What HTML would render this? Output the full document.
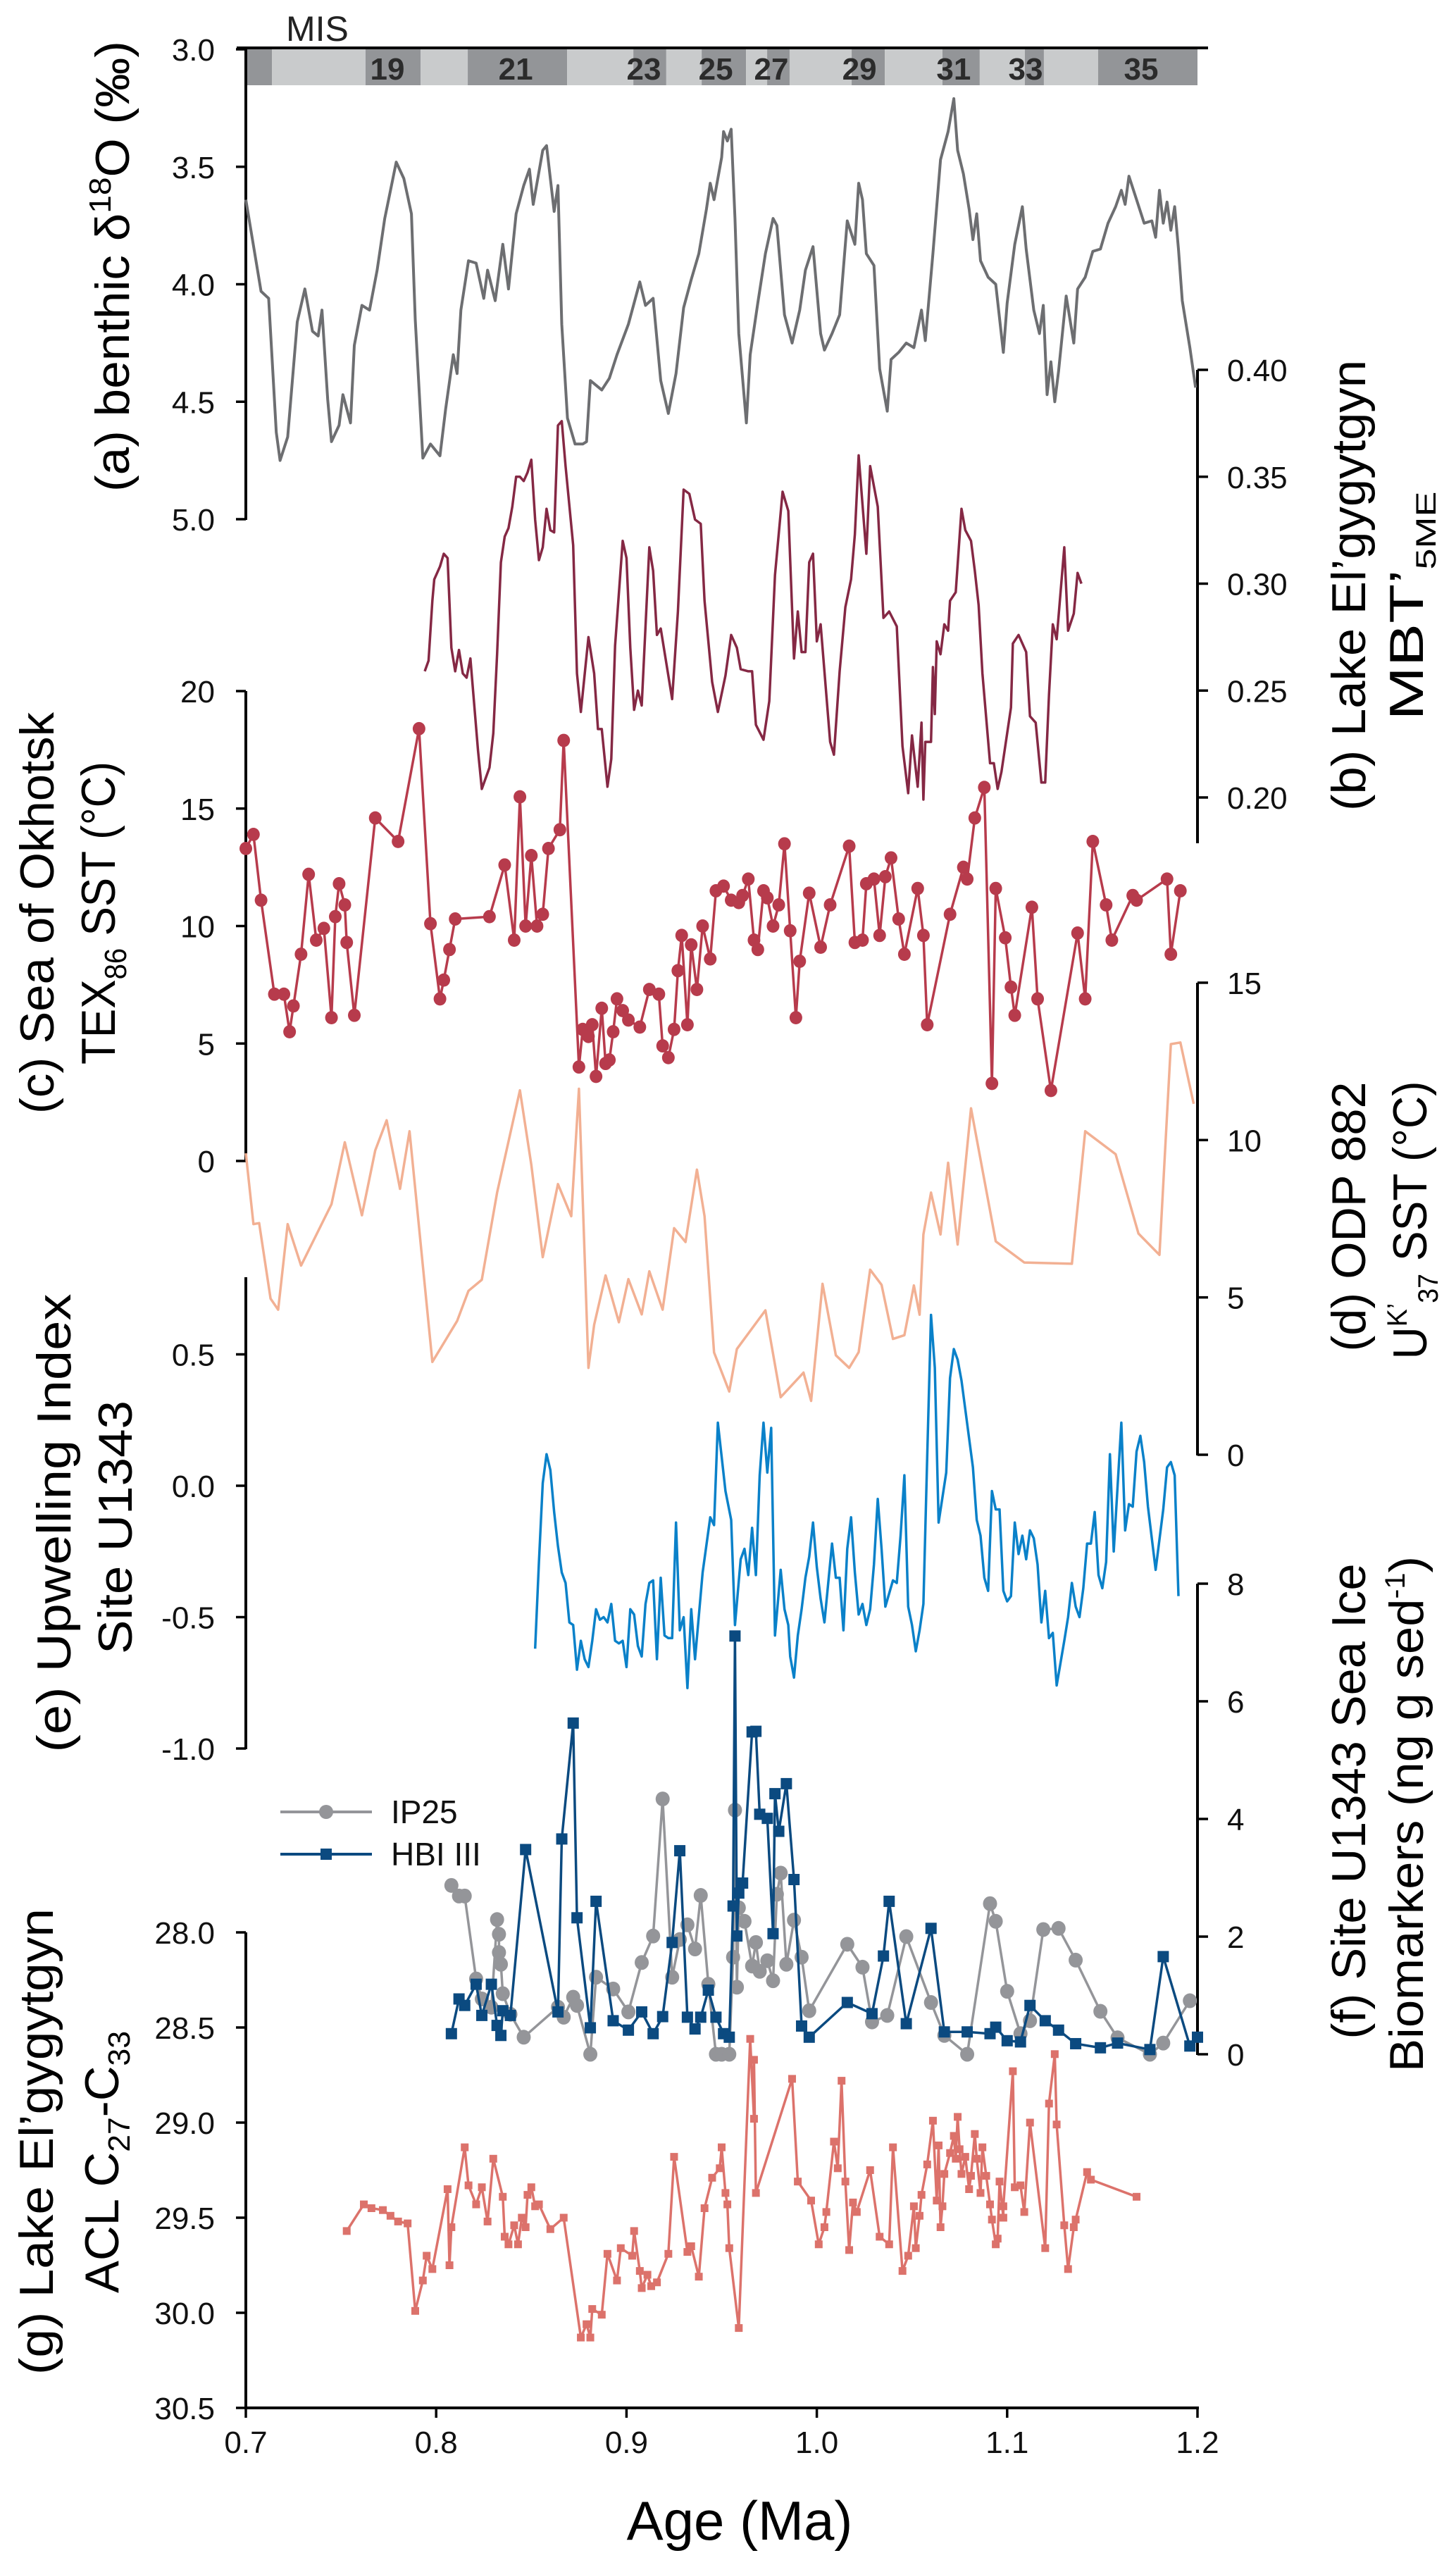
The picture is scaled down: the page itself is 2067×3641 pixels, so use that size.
<!DOCTYPE html>
<html><head><meta charset="utf-8"><style>
html,body{margin:0;padding:0;background:#fff;}
svg{display:block;font-family:"Liberation Sans",sans-serif;}
</style></head><body>
<svg id="chart" width="2067" height="3641" viewBox="0 0 2067 3641" xmlns="http://www.w3.org/2000/svg">
<g id="mis"></g>
<g id="axes"></g>
<g id="series"></g>
<text x="406" y="58" font-size="50" fill="#222">MIS</text>
<!-- left labels -->
<text transform="translate(183,378) rotate(-90)" text-anchor="middle" font-size="68" textLength="640" lengthAdjust="spacingAndGlyphs">(a) benthic δ<tspan font-size="44" dy="-26">18</tspan><tspan dy="26">O (‰)</tspan></text>
<text transform="translate(76,1296) rotate(-90)" text-anchor="middle" font-size="68" textLength="570" lengthAdjust="spacingAndGlyphs">(c) Sea of Okhotsk</text>
<text transform="translate(163,1296) rotate(-90)" text-anchor="middle" font-size="68" textLength="430" lengthAdjust="spacingAndGlyphs">TEX<tspan font-size="44" dy="16">86</tspan><tspan dy="-16"> SST (°C)</tspan></text>
<text transform="translate(100,2162) rotate(-90)" text-anchor="middle" font-size="68" textLength="651" lengthAdjust="spacingAndGlyphs">(e) Upwelling Index</text>
<text transform="translate(187,2168) rotate(-90)" text-anchor="middle" font-size="68" textLength="360" lengthAdjust="spacingAndGlyphs">Site U1343</text>
<text transform="translate(75,3040) rotate(-90)" text-anchor="middle" font-size="68" textLength="662" lengthAdjust="spacingAndGlyphs">(g) Lake El’gygytgyn</text>
<text transform="translate(168,3069) rotate(-90)" text-anchor="middle" font-size="68" textLength="372" lengthAdjust="spacingAndGlyphs">ACL C<tspan font-size="44" dy="16">27</tspan><tspan dy="-16">-C</tspan><tspan font-size="44" dy="16">33</tspan></text>
<!-- right labels -->
<text transform="translate(1938,831) rotate(-90)" text-anchor="middle" font-size="68" textLength="640" lengthAdjust="spacingAndGlyphs">(b) Lake El’gygytgyn</text>
<text transform="translate(2020,860) rotate(-90)" text-anchor="middle" font-size="68" textLength="325" lengthAdjust="spacingAndGlyphs">MBT’<tspan font-size="40" dy="18">5ME</tspan></text>
<text transform="translate(1938,1727) rotate(-90)" text-anchor="middle" font-size="68" textLength="383" lengthAdjust="spacingAndGlyphs">(d) ODP 882</text>
<text transform="translate(2025,1732) rotate(-90)" text-anchor="middle" font-size="68" textLength="395" lengthAdjust="spacingAndGlyphs">U<tspan font-size="40" dy="-28">K’</tspan><tspan font-size="40" dy="44">37</tspan><tspan dy="-16"> SST (°C)</tspan></text>
<text transform="translate(1938,2557) rotate(-90)" text-anchor="middle" font-size="68" textLength="675" lengthAdjust="spacingAndGlyphs">(f) Site U1343 Sea Ice</text>
<text transform="translate(2020,2575) rotate(-90)" text-anchor="middle" font-size="68" textLength="732" lengthAdjust="spacingAndGlyphs">Biomarkers (ng g sed<tspan font-size="40" dy="-26">-1</tspan><tspan dy="26">)</tspan></text>
<text x="1050" y="3605" text-anchor="middle" font-size="78">Age (Ma)</text>
<!-- legend -->
<g>
<g>
<line x1="398" y1="2572" x2="528" y2="2572" stroke="#949599" stroke-width="4"/>
<circle cx="463" cy="2572" r="10" fill="#949599"/>
<text x="555" y="2588" font-size="46" fill="#111">IP25</text>
</g>
<g>
<line x1="398" y1="2632" x2="528" y2="2632" stroke="#0b4a80" stroke-width="4"/>
<rect x="455" y="2624" width="16" height="16" fill="#0b4a80"/>
<text x="555" y="2648" font-size="46" fill="#111">HBI III</text>
</g>
</g>
</svg>
<script>
// ---- data ----
const xTicks = [0.7,0.8,0.9,1.0,1.1,1.2];
const xTickLabels = ["0.7","0.8","0.9","1.0","1.1","1.2"];
const misBounds = [0.7,0.7137,0.7629,0.7918,0.8166,0.8688,0.9036,0.9209,0.9395,0.9628,0.9739,0.9857,1.0183,1.0357,1.066,1.0856,1.1093,1.1193,1.1478,1.2];
const misLabels = ["19","21","23","25","27","29","31","33","35"];
const misLabelAges = [0.7744,0.8418,0.9091,0.9469,0.9761,1.0224,1.0719,1.1097,1.1704];

const aTicks = [3.0,3.5,4.0,4.5,5.0];
const aTickLabels = ["3.0","3.5","4.0","4.5","5.0"];
const aAge = [0.700,0.708,0.712,0.716,0.718,0.722,0.727,0.731,0.735,0.738,0.740,0.743,0.745,0.749,0.751,0.755,0.757,0.761,0.765,0.769,0.773,0.777,0.779,0.783,0.787,0.789,0.793,0.797,0.802,0.805,0.809,0.811,0.813,0.817,0.821,0.825,0.827,0.831,0.835,0.838,0.842,0.846,0.849,0.851,0.856,0.858,0.862,0.864,0.866,0.869,0.873,0.877,0.879,0.881,0.887,0.891,0.895,0.901,0.907,0.910,0.914,0.918,0.922,0.926,0.930,0.934,0.938,0.942,0.944,0.946,0.950,0.951,0.953,0.955,0.957,0.959,0.963,0.965,0.969,0.973,0.977,0.979,0.983,0.987,0.991,0.994,0.998,1.002,1.004,1.008,1.012,1.016,1.020,1.022,1.024,1.026,1.030,1.033,1.037,1.039,1.043,1.047,1.051,1.055,1.057,1.061,1.065,1.069,1.072,1.074,1.077,1.080,1.082,1.084,1.086,1.090,1.094,1.098,1.100,1.104,1.108,1.110,1.114,1.117,1.119,1.121,1.123,1.125,1.127,1.131,1.135,1.137,1.141,1.145,1.149,1.153,1.157,1.160,1.162,1.164,1.168,1.172,1.176,1.178,1.180,1.182,1.184,1.186,1.188,1.190,1.192,1.196,1.199];
const aVal = [3.64,4.03,4.06,4.63,4.75,4.65,4.16,4.02,4.20,4.22,4.11,4.49,4.67,4.60,4.47,4.59,4.26,4.09,4.11,3.94,3.72,3.56,3.48,3.55,3.70,4.15,4.74,4.68,4.73,4.53,4.30,4.38,4.11,3.90,3.91,4.06,3.94,4.07,3.83,4.02,3.70,3.58,3.51,3.66,3.43,3.41,3.69,3.58,4.17,4.57,4.68,4.68,4.67,4.41,4.45,4.40,4.30,4.17,3.99,4.09,4.06,4.41,4.55,4.38,4.10,3.98,3.87,3.68,3.57,3.64,3.46,3.35,3.39,3.34,3.72,4.21,4.59,4.30,4.08,3.87,3.72,3.75,4.13,4.25,4.11,3.94,3.84,4.21,4.28,4.21,4.13,3.73,3.83,3.57,3.64,3.87,3.92,4.36,4.54,4.32,4.29,4.25,4.27,4.11,4.24,3.87,3.47,3.35,3.21,3.43,3.53,3.68,3.81,3.70,3.90,3.97,4.00,4.29,4.08,3.83,3.67,3.85,4.11,4.21,4.09,4.47,4.33,4.50,4.37,4.05,4.25,4.02,3.97,3.86,3.85,3.74,3.67,3.60,3.66,3.54,3.64,3.74,3.73,3.80,3.60,3.74,3.65,3.77,3.67,3.85,4.07,4.27,4.44];

const bTicks = [0.40,0.35,0.30,0.25,0.20];
const bTickLabels = ["0.40","0.35","0.30","0.25","0.20"];
const bAge = [0.794,0.796,0.798,0.799,0.802,0.804,0.806,0.808,0.810,0.812,0.814,0.816,0.818,0.822,0.824,0.828,0.830,0.832,0.834,0.836,0.838,0.840,0.842,0.844,0.846,0.848,0.850,0.852,0.854,0.856,0.858,0.860,0.862,0.864,0.866,0.868,0.872,0.874,0.876,0.880,0.883,0.885,0.887,0.890,0.892,0.894,0.898,0.900,0.902,0.904,0.906,0.908,0.910,0.912,0.914,0.916,0.918,0.920,0.924,0.927,0.930,0.933,0.936,0.939,0.941,0.945,0.948,0.952,0.955,0.958,0.960,0.964,0.966,0.968,0.972,0.975,0.978,0.982,0.985,0.988,0.990,0.992,0.994,0.996,0.998,1.000,1.002,1.004,1.007,1.009,1.012,1.015,1.018,1.020,1.022,1.026,1.028,1.032,1.035,1.038,1.042,1.045,1.048,1.050,1.053,1.055,1.056,1.057,1.060,1.061,1.062,1.063,1.065,1.067,1.069,1.070,1.073,1.076,1.078,1.081,1.083,1.085,1.087,1.091,1.093,1.095,1.097,1.102,1.103,1.106,1.110,1.112,1.115,1.118,1.120,1.122,1.124,1.126,1.130,1.132,1.135,1.137,1.139];
const bVal = [0.259,0.264,0.292,0.302,0.308,0.314,0.312,0.270,0.259,0.269,0.258,0.256,0.265,0.222,0.204,0.214,0.230,0.267,0.310,0.322,0.326,0.336,0.350,0.350,0.348,0.352,0.358,0.330,0.311,0.317,0.335,0.325,0.324,0.374,0.376,0.355,0.318,0.258,0.240,0.275,0.258,0.232,0.232,0.205,0.218,0.271,0.320,0.312,0.270,0.241,0.250,0.243,0.280,0.317,0.306,0.276,0.279,0.268,0.246,0.287,0.344,0.342,0.330,0.328,0.292,0.254,0.240,0.257,0.276,0.270,0.260,0.259,0.259,0.234,0.227,0.245,0.304,0.343,0.334,0.265,0.287,0.268,0.268,0.310,0.314,0.273,0.281,0.259,0.226,0.220,0.259,0.289,0.302,0.323,0.360,0.314,0.355,0.336,0.284,0.287,0.280,0.224,0.202,0.229,0.205,0.235,0.199,0.226,0.226,0.261,0.239,0.273,0.267,0.281,0.278,0.292,0.296,0.335,0.325,0.320,0.306,0.290,0.258,0.216,0.216,0.204,0.212,0.242,0.272,0.276,0.268,0.238,0.235,0.207,0.207,0.248,0.281,0.274,0.317,0.278,0.286,0.305,0.300];

const cTicks = [20,15,10,5,0];
const cTickLabels = ["20","15","10","5","0"];
const cAge = [0.700,0.704,0.708,0.715,0.720,0.723,0.725,0.729,0.733,0.737,0.741,0.745,0.747,0.749,0.752,0.753,0.757,0.768,0.780,0.791,0.797,0.802,0.804,0.807,0.810,0.828,0.836,0.841,0.844,0.847,0.850,0.853,0.856,0.859,0.865,0.867,0.875,0.877,0.880,0.882,0.884,0.887,0.889,0.891,0.893,0.895,0.898,0.901,0.907,0.912,0.917,0.919,0.922,0.925,0.927,0.929,0.932,0.934,0.937,0.940,0.944,0.947,0.951,0.955,0.959,0.961,0.964,0.967,0.969,0.972,0.974,0.977,0.980,0.983,0.986,0.989,0.991,0.996,1.002,1.007,1.017,1.020,1.024,1.026,1.030,1.033,1.036,1.039,1.043,1.046,1.053,1.056,1.058,1.070,1.077,1.079,1.083,1.088,1.092,1.094,1.099,1.102,1.104,1.113,1.116,1.123,1.137,1.141,1.145,1.152,1.155,1.166,1.168,1.184,1.186,1.191];
const cVal = [13.3,13.9,11.1,7.1,7.1,5.5,6.6,8.8,12.2,9.4,9.9,6.1,10.4,11.8,10.9,9.3,6.2,14.6,13.6,18.4,10.1,6.9,7.7,9.0,10.3,10.4,12.6,9.4,15.5,10.0,13.0,10.0,10.5,13.3,14.1,17.9,4.0,5.6,5.3,5.8,3.6,6.5,4.15,4.3,5.5,6.9,6.4,6.0,5.7,7.3,7.1,4.9,4.4,5.6,8.1,9.6,5.8,9.2,7.3,10.0,8.6,11.5,11.7,11.1,11.0,11.3,12.0,9.4,9.0,11.5,11.2,10.0,10.9,13.5,9.8,6.1,8.5,11.4,9.1,10.9,13.4,9.3,9.4,11.8,12.0,9.6,12.1,12.9,10.3,8.8,11.6,9.6,5.8,10.5,12.5,12.0,14.6,15.9,3.3,11.6,9.5,7.4,6.2,10.8,6.9,3.0,9.7,6.9,13.6,10.9,9.4,11.3,11.1,12.0,8.8,11.5];

const dTicks = [15,10,5,0];
const dTickLabels = ["15","10","5","0"];
const dAge = [0.700,0.704,0.707,0.713,0.717,0.722,0.729,0.745,0.752,0.761,0.768,0.774,0.781,0.786,0.798,0.811,0.817,0.824,0.832,0.844,0.850,0.856,0.864,0.871,0.875,0.880,0.883,0.889,0.896,0.901,0.908,0.912,0.919,0.925,0.931,0.937,0.941,0.946,0.954,0.958,0.973,0.981,0.993,0.997,1.003,1.010,1.017,1.022,1.028,1.034,1.040,1.046,1.051,1.054,1.056,1.060,1.065,1.069,1.074,1.081,1.094,1.109,1.134,1.141,1.157,1.169,1.180,1.186,1.191,1.198];
const dVal = [9.58,7.33,7.36,4.96,4.61,7.33,6.01,7.96,9.93,7.61,9.67,10.63,8.45,10.28,2.95,4.25,5.21,5.56,8.33,11.58,9.21,6.28,8.60,7.58,11.63,2.76,4.13,5.70,4.21,5.58,4.46,5.83,4.61,7.20,6.76,9.06,7.58,3.25,2.01,3.36,4.59,1.83,2.61,1.71,5.43,3.16,2.76,3.26,5.88,5.40,3.68,3.80,5.38,4.45,7.00,8.33,7.00,9.28,6.68,11.01,6.78,6.11,6.07,10.28,9.55,7.03,6.35,13.05,13.10,11.15];

const eTicks = [0.5,0.0,-0.5,-1.0];
const eTickLabels = ["0.5","0.0","-0.5","-1.0"];
const eAge = [0.852,0.854,0.856,0.858,0.860,0.862,0.864,0.866,0.868,0.870,0.872,0.874,0.876,0.878,0.880,0.882,0.884,0.886,0.888,0.890,0.892,0.894,0.896,0.898,0.900,0.902,0.904,0.906,0.908,0.910,0.912,0.914,0.916,0.918,0.920,0.922,0.924,0.926,0.928,0.930,0.932,0.934,0.936,0.940,0.944,0.946,0.948,0.952,0.955,0.957,0.960,0.962,0.964,0.966,0.968,0.970,0.972,0.974,0.976,0.978,0.981,0.983,0.985,0.986,0.988,0.990,0.992,0.994,0.996,0.998,1.000,1.002,1.004,1.006,1.008,1.010,1.012,1.014,1.016,1.018,1.020,1.022,1.024,1.026,1.028,1.030,1.032,1.034,1.036,1.038,1.040,1.042,1.044,1.046,1.048,1.050,1.052,1.054,1.056,1.058,1.060,1.062,1.064,1.068,1.070,1.072,1.074,1.076,1.078,1.082,1.084,1.086,1.088,1.090,1.092,1.094,1.096,1.098,1.100,1.102,1.104,1.106,1.108,1.110,1.112,1.114,1.116,1.118,1.120,1.122,1.124,1.126,1.130,1.132,1.134,1.136,1.138,1.140,1.142,1.144,1.146,1.148,1.150,1.152,1.154,1.156,1.160,1.162,1.164,1.166,1.168,1.170,1.172,1.174,1.178,1.182,1.184,1.186,1.188,1.190];
const eVal = [-0.62,-0.29,0.01,0.12,0.06,-0.10,-0.23,-0.33,-0.37,-0.52,-0.53,-0.70,-0.59,-0.66,-0.69,-0.59,-0.47,-0.51,-0.50,-0.52,-0.45,-0.59,-0.60,-0.59,-0.69,-0.47,-0.49,-0.61,-0.65,-0.45,-0.37,-0.36,-0.66,-0.35,-0.57,-0.58,-0.58,-0.14,-0.55,-0.50,-0.77,-0.47,-0.66,-0.33,-0.12,-0.15,0.24,-0.02,-0.13,-0.53,-0.28,-0.24,-0.34,-0.16,-0.34,0.04,0.24,0.05,0.22,-0.57,-0.32,-0.47,-0.53,-0.65,-0.73,-0.57,-0.47,-0.35,-0.27,-0.14,-0.31,-0.43,-0.52,-0.37,-0.22,-0.35,-0.35,-0.55,-0.24,-0.12,-0.33,-0.49,-0.45,-0.53,-0.47,-0.30,-0.05,-0.24,-0.46,-0.41,-0.36,-0.37,-0.19,0.04,-0.46,-0.53,-0.63,-0.55,-0.45,0.11,0.65,0.45,-0.14,0.05,0.41,0.52,0.48,0.40,0.29,0.07,-0.13,-0.19,-0.35,-0.40,-0.02,-0.09,-0.09,-0.40,-0.44,-0.42,-0.14,-0.26,-0.19,-0.28,-0.17,-0.20,-0.30,-0.52,-0.40,-0.58,-0.56,-0.76,-0.59,-0.50,-0.37,-0.46,-0.50,-0.39,-0.22,-0.22,-0.10,-0.34,-0.39,-0.29,0.12,-0.25,0.24,-0.17,-0.07,-0.08,0.13,0.19,0.09,-0.08,-0.32,-0.09,0.07,0.09,0.04,-0.42];

const fTicks = [8,6,4,2,0];
const fTickLabels = ["8","6","4","2","0"];
const hbiAge = [0.808,0.812,0.815,0.821,0.824,0.829,0.832,0.834,0.835,0.839,0.847,0.864,0.866,0.872,0.874,0.881,0.884,0.893,0.901,0.908,0.914,0.919,0.924,0.928,0.932,0.936,0.939,0.943,0.947,0.951,0.954,0.956,0.957,0.958,0.959,0.961,0.966,0.968,0.970,0.974,0.977,0.978,0.980,0.984,0.988,0.992,0.996,1.016,1.029,1.035,1.038,1.047,1.060,1.067,1.079,1.091,1.094,1.100,1.107,1.112,1.120,1.127,1.136,1.149,1.158,1.175,1.182,1.196,1.200];
const hbiVal = [0.35,0.94,0.83,1.19,0.66,1.19,0.49,0.32,0.74,0.66,3.48,0.72,3.66,5.63,2.32,0.45,2.60,0.57,0.41,0.72,0.35,0.64,1.90,3.46,0.63,0.43,0.63,1.09,0.63,0.35,0.29,2.52,7.11,2.01,2.74,2.91,5.48,5.49,4.08,4.01,2.05,4.43,3.79,4.60,2.97,0.48,0.29,0.88,0.69,1.67,2.60,0.52,2.14,0.38,0.38,0.35,0.46,0.23,0.21,0.83,0.57,0.41,0.18,0.11,0.19,0.08,1.66,0.14,0.29];
const ipAge = [0.808,0.812,0.815,0.821,0.824,0.829,0.832,0.833,0.833,0.834,0.835,0.839,0.846,0.864,0.867,0.872,0.874,0.881,0.884,0.893,0.901,0.908,0.914,0.919,0.924,0.928,0.932,0.936,0.939,0.943,0.947,0.950,0.954,0.956,0.957,0.958,0.959,0.962,0.966,0.968,0.970,0.974,0.977,0.979,0.981,0.984,0.988,0.992,0.996,1.016,1.024,1.029,1.037,1.047,1.060,1.067,1.079,1.091,1.094,1.100,1.107,1.112,1.119,1.127,1.136,1.149,1.158,1.175,1.182,1.196];
const ipVal = [2.87,2.69,2.69,1.28,0.94,0.80,2.29,2.04,1.73,1.53,1.03,0.68,0.29,0.80,0.63,0.97,0.83,0.00,1.31,1.11,0.72,1.56,2.01,4.34,1.31,1.95,2.20,1.79,2.70,1.19,0.00,0.00,0.00,1.65,4.15,1.14,2.49,2.26,1.50,1.90,1.41,1.59,1.25,2.72,3.08,1.53,2.28,1.65,0.74,1.87,1.48,0.55,0.66,2.00,0.88,0.32,0.00,2.56,2.26,1.07,0.35,0.57,2.12,2.14,1.60,0.73,0.28,0.00,0.19,0.91];

const gTicks = [28.0,28.5,29.0,29.5,30.0,30.5];
const gTickLabels = ["28.0","28.5","29.0","29.5","30.0","30.5"];
const gAge = [0.753,0.762,0.766,0.772,0.776,0.780,0.785,0.789,0.793,0.795,0.798,0.806,0.807,0.808,0.815,0.817,0.821,0.824,0.827,0.830,0.835,0.836,0.838,0.841,0.843,0.845,0.847,0.848,0.850,0.852,0.854,0.860,0.867,0.876,0.879,0.881,0.882,0.887,0.890,0.895,0.897,0.903,0.904,0.907,0.908,0.911,0.913,0.916,0.922,0.925,0.932,0.934,0.938,0.941,0.945,0.949,0.950,0.952,0.953,0.954,0.959,0.965,0.967,0.967,0.968,0.987,0.990,0.997,1.001,1.004,1.005,1.009,1.011,1.013,1.015,1.017,1.019,1.021,1.028,1.033,1.038,1.040,1.045,1.048,1.051,1.052,1.054,1.055,1.058,1.061,1.063,1.064,1.065,1.066,1.067,1.070,1.072,1.073,1.074,1.075,1.076,1.078,1.080,1.081,1.083,1.084,1.086,1.087,1.089,1.091,1.092,1.094,1.095,1.096,1.098,1.098,1.103,1.104,1.107,1.109,1.112,1.120,1.122,1.125,1.126,1.130,1.132,1.135,1.136,1.142,1.144,1.168];
const gVal = [29.57,29.43,29.45,29.46,29.49,29.52,29.53,29.99,29.83,29.70,29.77,29.35,29.75,29.55,29.13,29.33,29.43,29.34,29.52,29.19,29.39,29.60,29.64,29.54,29.64,29.50,29.55,29.38,29.34,29.44,29.43,29.56,29.50,30.13,30.06,30.13,29.98,30.01,29.69,29.83,29.66,29.70,29.57,29.78,29.87,29.80,29.86,29.84,29.69,29.18,29.68,29.65,29.81,29.45,29.29,29.24,29.13,29.37,29.43,29.66,30.08,28.56,28.98,28.67,29.37,28.77,29.31,29.41,29.64,29.55,29.47,29.10,29.24,28.78,29.31,29.67,29.42,29.47,29.25,29.60,29.64,29.13,29.78,29.70,29.44,29.66,29.49,29.38,29.22,28.99,29.41,29.12,29.55,29.44,29.27,29.16,29.07,29.19,28.97,29.14,29.27,29.18,29.35,29.28,29.06,29.19,29.37,29.13,29.28,29.43,29.51,29.64,29.61,29.31,29.50,29.44,28.73,29.34,29.33,29.47,29.00,29.66,28.90,28.64,29.01,29.54,29.77,29.55,29.51,29.26,29.30,29.39];

// ---- scales ----
const X0 = 349, X1 = 1700;
function xs(a){ return X0 + (a - 0.7) / 0.5 * (X1 - X0); }
function ya(v){ return 70 + (v - 3.0) * 333.5; }
function yb(v){ return 525 + (0.40 - v) / 0.05 * 151.75; }
function yc(v){ return 1648 - v * 33.35; }
function yd(v){ return 2065 - v * 44.67; }
function ye(v){ return 2109 - v * 373; }
function yf(v){ return 2916 - v * 83.5; }
function yg(v){ return 2743 + (v - 28.0) * 270; }

const NS = "http://www.w3.org/2000/svg";
function mk(tag, attrs, parent){
  const el = document.createElementNS(NS, tag);
  for (const k in attrs) el.setAttribute(k, attrs[k]);
  parent.appendChild(el);
  return el;
}
const gMis = document.getElementById('mis');
const gAxes = document.getElementById('axes');
const gSer = document.getElementById('series');

// MIS bar
for (let i = 0; i < misBounds.length - 1; i++){
  const r = mk('rect', {x: xs(misBounds[i]), y: 70, width: xs(misBounds[i+1]) - xs(misBounds[i]), height: 51, fill: (i % 2 === 0) ? '#939598' : '#c9cbcc'}, gMis);
  
  
}
for (let i = 0; i < misLabels.length; i++){
  const t = mk('text', {x: xs(misLabelAges[i]), y: 113, 'text-anchor': 'middle', 'font-size': 44, 'font-weight': 'bold', fill: '#2b2b2b'}, gMis);
  t.textContent = misLabels[i];
  
  
}
const topLine = mk('line', {x1: 336, y1: 68, x2: 1715, y2: 68, stroke: '#000', 'stroke-width': 4}, gAxes);



// axes
function leftAxis(ticks, labels, yf, top, bottom, name){
  const ln = mk('line', {x1: X0, y1: top, x2: X0, y2: bottom, stroke: '#000', 'stroke-width': 4}, gAxes);
  
  
  for (let i = 0; i < ticks.length; i++){
    const y = yf(ticks[i]);
    const tk = mk('line', {x1: X0 - 14, y1: y, x2: X0, y2: y, stroke: '#000', 'stroke-width': 3.5}, gAxes);
    
    
    const t = mk('text', {x: 305, y: y + 16, 'text-anchor': 'end', 'font-size': 44, fill: '#111'}, gAxes);
    t.textContent = labels[i];
    
    
  }
}
function rightAxis(ticks, labels, yf, top, bottom, name){
  const ln = mk('line', {x1: X1, y1: top, x2: X1, y2: bottom, stroke: '#000', 'stroke-width': 4}, gAxes);
  
  
  for (let i = 0; i < ticks.length; i++){
    const y = yf(ticks[i]);
    const tk = mk('line', {x1: X1, y1: y, x2: X1 + 15, y2: y, stroke: '#000', 'stroke-width': 3.5}, gAxes);
    
    
    const t = mk('text', {x: 1742, y: y + 16, 'text-anchor': 'start', 'font-size': 44, fill: '#111'}, gAxes);
    t.textContent = labels[i];
    
    
  }
}
leftAxis(aTicks, aTickLabels, ya, 70, 738, 'y-axis-a');
leftAxis(cTicks, cTickLabels, yc, 981, 1649, 'y-axis-c');
leftAxis(eTicks, eTickLabels, ye, 1813, 2483, 'y-axis-e');
leftAxis(gTicks, gTickLabels, yg, 2743, 3420, 'y-axis-g');
rightAxis(bTicks, bTickLabels, yb, 525, 1197, 'y-axis-b');
rightAxis(dTicks, dTickLabels, yd, 1395, 2066, 'y-axis-d');
rightAxis(fTicks, fTickLabels, yf, 2248, 2917, 'y-axis-f');

const xl = mk('line', {x1: X0 - 2, y1: 3418, x2: X1 + 2, y2: 3418, stroke: '#000', 'stroke-width': 4}, gAxes);


for (let i = 0; i < xTicks.length; i++){
  const x = xs(xTicks[i]);
  const tk = mk('line', {x1: x, y1: 3418, x2: x, y2: 3432, stroke: '#000', 'stroke-width': 3.5}, gAxes);
  
  
  const t = mk('text', {x: x, y: 3482, 'text-anchor': 'middle', 'font-size': 44, fill: '#111'}, gAxes);
  t.textContent = xTickLabels[i];
  
  
}

// series
function series(ages, vals, yfun, color, width, name){
  const n = Math.min(ages.length, vals.length);
  let d = '';
  for (let i = 0; i < n; i++) d += (i ? 'L' : 'M') + xs(ages[i]).toFixed(1) + ',' + yfun(vals[i]).toFixed(1);
  const p = mk('path', {d: d, fill: 'none', stroke: color, 'stroke-width': width, 'stroke-linejoin': 'round'}, gSer);
  
  
  return n;
}
function circles(ages, vals, yfun, color, r, name){
  const n = Math.min(ages.length, vals.length);
  for (let i = 0; i < n; i++){
    const c = mk('ellipse', {cx: xs(ages[i]), cy: yfun(vals[i]), rx: r, ry: r * 1.05, fill: color}, gSer);
    
    
  }
}
function squares(ages, vals, yfun, color, s, name){
  const n = Math.min(ages.length, vals.length);
  for (let i = 0; i < n; i++){
    const q = mk('rect', {x: xs(ages[i]) - s / 2, y: yfun(vals[i]) - s / 2, width: s, height: s, fill: color}, gSer);
    
    
  }
}
series(aAge, aVal, ya, '#6d6e71', 4, 'benthic-d18o-line');
series(bAge, bVal, yb, '#852844', 3.5, 'mbt5me-line');
series(dAge, dVal, yd, '#f2b093', 3.5, 'odp882-sst-line');
series(cAge, cVal, yc, '#b73b4c', 3.5, 'tex86-sst-line');
circles(cAge, cVal, yc, '#b73b4c', 9, 'tex86-sst-point');
series(eAge, eVal, ye, '#0a81c9', 3.5, 'upwelling-index-line');
series(ipAge, ipVal, yf, '#949599', 3.5, 'ip25-line');
circles(ipAge, ipVal, yf, '#949599', 10, 'ip25-point');
series(hbiAge, hbiVal, yf, '#0b4a80', 3.5, 'hbi3-line');
squares(hbiAge, hbiVal, yf, '#0b4a80', 16, 'hbi3-point');
series(gAge, gVal, yg, '#dc726b', 3.5, 'acl-line');
squares(gAge, gVal, yg, '#dc726b', 11, 'acl-point');
</script>
</body></html>
